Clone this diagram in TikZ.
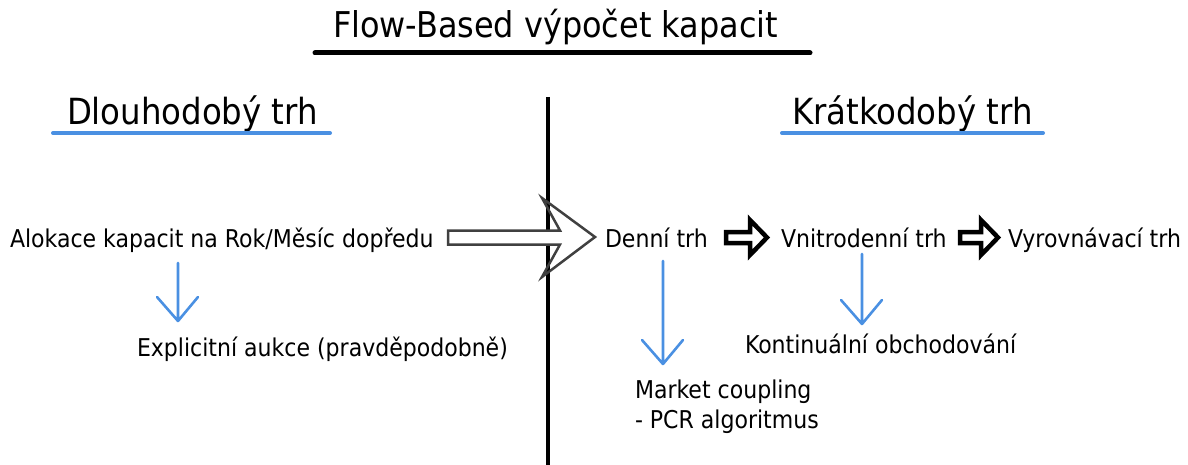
\documentclass[tikz,border=0pt]{standalone}
\usepackage{fontspec}
\setmainfont{DejaVu Sans Condensed}
\begin{document}
\begin{tikzpicture}[x=1pt,y=-1pt,
  txt/.style={anchor=base west,inner sep=0pt,outer sep=0pt,font=\fontsize{24.5}{30}\selectfont},
  heading/.style={anchor=base west,inner sep=0pt,outer sep=0pt,font=\fontsize{36}{42}\selectfont},
  rule/.style={line width=4pt,line cap=round,draw=bluel},
  bluearrow/.style={draw=bluel,line width=2.6pt,line cap=round,line join=round},
  blockarrow/.style={draw=black,line width=4.5pt,fill=white,line join=miter},
  hollowarrow/.style={draw=graya,line width=2.5pt,line join=miter}]
\definecolor{bluel}{RGB}{74,144,226}
\definecolor{graya}{RGB}{64,64,64}
\useasboundingbox (0,0) rectangle (1188,465);

% title with its underline
\node[heading,font=\fontsize{35.5}{42}\selectfont] (title) at (333,38) {Flow-Based výpočet kapacit};
\draw[line width=5pt,line cap=round] (315,53) -- (810,53);

% divider between the two markets
\draw[line width=4pt] (548,97) -- (548,465);

% section headings
\node[heading] (long) at (67,125) {Dlouhodobý trh};
\draw[rule] (53,133) -- (330,133);
\node[heading] (short) at (792,125) {Krátkodobý trh};
\draw[rule] (782,133) -- (1043,133);

% long-term market
\node[txt] (alok) at (10,247) {Alokace kapacit na Rok/Měsíc dopředu};
\node[txt] (expl) at (137,356) {Explicitní aukce (pravděpodobně)};

% short-term market
\node[txt] (den) at (605,247) {Denní trh};
\node[txt] (vni) at (781,247) {Vnitrodenní trh};
\node[txt] (vyr) at (1008,247) {Vyrovnávací trh};
\node[txt] (kont) at (745,353) {Kontinuální obchodování};
\node[txt,align=left,anchor=north west,font=\fontsize{24.5}{30}\selectfont] (mc) at (635,380) {Market coupling\\- PCR algoritmus};

% hollow arrow from long-term to short-term
\fill[white] (449,231.5) rectangle (559,243.5);
\draw[hollowarrow] (448,230.5) -- (560,230.5) -- (542,198) -- (595,237) -- (542,277) -- (560,244.5) -- (448,244.5) -- cycle;

% bold arrows between short-term stages
\draw[blockarrow] (726,232) -- (750,232) -- (750,220) -- (767,237.5) -- (750,255) -- (750,243) -- (726,243) -- cycle;
\draw[blockarrow] (960,232) -- (981,232) -- (981,220) -- (998,237.5) -- (981,255) -- (981,243) -- (960,243) -- cycle;

% blue down arrows
\coordinate (a1s) at (178,263); \coordinate (a1e) at (178,321);
\draw[bluearrow] (a1s) -- (a1e) (a1e) -- ++(-21,-24) (a1e) -- ++(20,-24);
\coordinate (a2s) at (663,261); \coordinate (a2e) at (663,364);
\draw[bluearrow] (a2s) -- (a2e) (a2e) -- ++(-21,-24) (a2e) -- ++(20,-24);
\coordinate (a3s) at (862,254); \coordinate (a3e) at (862,324);
\draw[bluearrow] (a3s) -- (a3e) (a3e) -- ++(-21,-24) (a3e) -- ++(20,-24);
\end{tikzpicture}
\end{document}
